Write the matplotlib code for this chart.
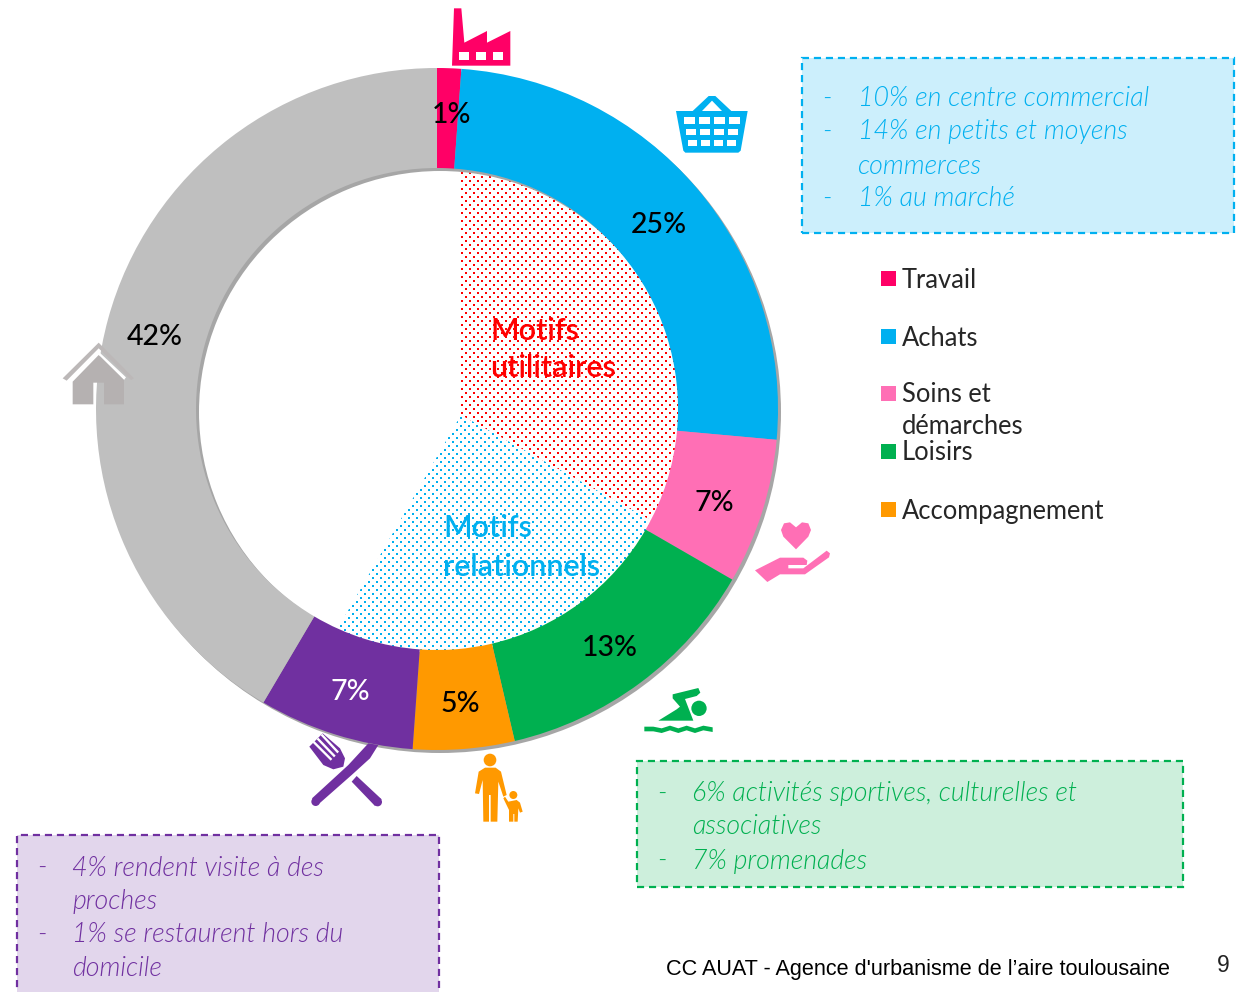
import numpy as np
import matplotlib
matplotlib.use("Agg")
import matplotlib.pyplot as plt
from matplotlib.patches import Polygon, Rectangle, Circle, Wedge

W, H = 1243, 992

categories = ["Travail", "Achats", "Soins et démarches", "Loisirs", "Accompagnement", "Restauration / visites", "Domicile"]
shares = [1.14, 25.3, 6.9, 13.0, 4.8, 7.36, 41.5]
share_labels = ["1%", "25%", "7%", "13%", "5%", "7%", "42%"]
legend_labels = ["Travail", "Achats", "Soins et", "démarches", "Loisirs", "Accompagnement"]
blue_lines = ["10% en centre commercial", "14% en petits et moyens", "commerces", "1% au marché"]
green_lines = ["6% activités sportives, culturelles et", "associatives", "7% promenades"]
purple_lines = ["4% rendent visite à des", "proches", "1% se restaurent hors du", "domicile"]

PINK, BLUE, ROSE, GREEN, ORANGE, PURPLE, GREY = "#ff0066", "#00b0f0", "#ff6fb5", "#00b050", "#ff9900", "#7030a0", "#bfbfbf"
colors = [PINK, BLUE, ROSE, GREEN, ORANGE, PURPLE, GREY]
SANS = "Lato"

fig = plt.figure(figsize=(W / 100, H / 100), dpi=100)
ax = fig.add_axes([0, 0, 1, 1])


def Y(y):
    return H - y


def poly(pts, color, ox=0, oy=0, s=1.0, z=6):
    ax.add_patch(Polygon([(ox + x * s, Y(oy + y * s)) for x, y in pts], closed=True, fc=color, ec="none", zorder=z))


def circ(x, y, r, color, ox=0, oy=0, s=1.0, z=6):
    ax.add_patch(Circle((ox + x * s, Y(oy + y * s)), r * s, fc=color, ec="none", zorder=z))


# dotted sectors behind the ring (2 px dots, 8 px pitch, staggered every 4 px)
def dotted_sector(theta1, theta2, rgb, x0, y0):
    yy, xx = np.mgrid[0:H, 0:W]
    a = (((xx - x0) % 8 < 2) & ((yy - y0) % 8 < 2)) | (((xx - x0 - 4) % 8 < 2) & ((yy - y0 - 4) % 8 < 2))
    img = np.zeros((H, W, 4))
    img[..., :3] = rgb
    img[..., 3] = a
    wedge = Wedge((461, Y(415)), 262, theta1, theta2, fc="none", ec="none", zorder=1)
    ax.add_patch(wedge)
    im = ax.imshow(img, extent=(0, W, 0, H), origin="upper", interpolation="nearest", aspect="auto", zorder=1)
    im.set_clip_path(wedge)


dotted_sector(-29, 90, (1, 0, 0), 521, 400)
dotted_sector(-120, -29, (0, 0.69, 0.94), 408, 541)

# shadow + ring
CX, CY, R_OUT, R_IN = 437, 409, 341, 241
ax.pie([1], colors=["#a6a6a6"], radius=R_OUT, center=(CX + 3, Y(CY + 3)), startangle=90,
       wedgeprops=dict(width=R_OUT - R_IN, linewidth=0, zorder=2))
ax.pie(shares, colors=colors, radius=R_OUT, center=(CX, Y(CY)), startangle=90, counterclock=False,
       wedgeprops=dict(width=R_OUT - R_IN, linewidth=0, zorder=3))
ax.set_xlim(0, W)
ax.set_ylim(0, H)
ax.set_aspect("auto")
ax.axis("off")

# share labels
label_xy = [(452, 115), (659, 225), (714, 503), (610, 648), (460, 704), (350, 692), (155, 337)]
label_col = ["black", "black", "black", "black", "black", "white", "black"]
for t, (x, y), c in zip(share_labels, label_xy, label_col):
    ax.text(x, Y(y), t, fontsize=20.5, family=SANS, weight="medium", color=c, ha="center", va="center", zorder=8)

# sector titles
for t, y in zip(["Motifs", "utilitaires"], [331, 368]):
    ax.text(490, Y(y), t, fontsize=22, family=SANS, weight="semibold", color="#ff0000", va="center", zorder=8)
for t, y in zip(["Motifs", "relationnels"], [528, 567]):
    ax.text(443, Y(y), t, fontsize=22, family=SANS, weight="semibold", color=BLUE, va="center", zorder=8)

# legend
legend_rows = [(280, PINK), (338, BLUE), (395, ROSE), (427, None), (453, GREEN), (511, ORANGE)]
for t, (y, c) in zip(legend_labels, legend_rows):
    if c:
        ax.add_patch(Rectangle((881, Y(y + 5.5)), 15, 15, fc=c, ec="none", zorder=5))
    ax.text(902, Y(y), t, fontsize=18.4, family=SANS, color="#262626", va="center", zorder=8)


# call-out boxes
def callout(x0, y0, x1, y1, fill, edge, lines, ys, xdash, xtext, dashed):
    ax.add_patch(Rectangle((x0, Y(y1)), x1 - x0, y1 - y0, fc=fill, ec=edge, lw=1.6,
                           linestyle=(0, (3.2, 2.2)), zorder=4, clip_on=True))
    for t, y, d in zip(lines, ys, dashed):
        if d:
            ax.text(xdash, Y(y), "-", fontsize=19.3, family=SANS, style="italic", weight=300,
                    color=edge, va="center", zorder=8)
        ax.text(xtext, Y(y), t, fontsize=19.3, family=SANS, style="italic", weight=300,
                color=edge, va="center", zorder=8)


callout(802, 58, 1234, 233, "#cceffc", BLUE, blue_lines, [99, 132, 166, 199], 822, 858, [1, 1, 0, 1])
callout(637, 761, 1183, 887, "#cdefdc", GREEN, green_lines, [794, 827, 861], 657, 692, [1, 0, 1])
callout(17, 835, 439, 1010, "#e2d6ec", PURPLE, purple_lines, [868, 901, 935, 969], 37, 72, [1, 0, 1, 0])

# footer
ax.text(666, Y(969), "CC AUAT - Agence d'urbanisme de l’aire toulousaine", fontsize=15.55, family="Liberation Sans",
        color="black", va="center", zorder=8)
ax.text(1223, Y(965), "9", fontsize=16.5, family="Liberation Sans", color="#222222", ha="center", va="center", zorder=8)

# ---- icons (decorative pictograms, crop-scale outline coordinates) ----
t = 1 / 3
# factory
poly([(96, 197), (102, 25), (124, 25), (133, 128), (201, 93), (201, 128), (271, 93), (271, 197)], PINK, 420, 0, t)
for a, b in [(117, 147), (167, 197), (219, 250)]:
    poly([(a, 157), (b, 157), (b, 180), (a, 180)], "white", 420, 0, t, 7)
# basket
poly([(818, 333), (866, 288), (886, 288), (934, 333)], BLUE, 420, 0, t)
poly([(846, 333), (876, 302), (906, 333)], "white", 420, 0, t, 7)
poly([(768, 333), (983, 333), (962, 452), (955, 458), (796, 458), (790, 452)], BLUE, 420, 0, t)
rows = [(352, 372, [(792, 826), (838, 870), (882, 916), (926, 960)]),
        (387, 405, [(798, 828), (840, 870), (882, 912), (924, 954)]),
        (419, 438, [(804, 830), (843, 870), (882, 908), (920, 948)])]
for y0, y1, cells in rows:
    for a, b in cells:
        poly([(a, y0), (b, y0), (b, y1), (a, y1)], "white", 420, 0, t, 7)
# heart in hand
poly([(498, 118), (460, 80), (453, 60), (462, 40), (480, 37), (498, 52), (516, 37), (535, 40), (543, 60), (535, 80)], ROSE, 630, 510, t)
poly([(375, 181), (450, 143), (520, 143), (532, 152), (530, 165), (475, 165), (475, 175), (520, 175), (590, 122),
      (600, 130), (597, 142), (525, 193), (450, 193), (412, 216)], ROSE, 630, 510, t)
# swimmer
circ(207, 595, 23, GREEN, 630, 510, t)
poly([(128, 553), (205, 534), (211, 548), (200, 558), (165, 567), (190, 632), (85, 632), (140, 598), (150, 590), (128, 565)], GREEN, 630, 510, t)
top = [(43, 650), (70, 650), (95, 655), (120, 647), (145, 655), (170, 647), (195, 655), (220, 647), (248, 652)]
poly(top + [(x, y + 14) for x, y in reversed(top)], GREEN, 630, 510, t)
# fork and knife
poly([(66, 235), (175, 135), (235, 70), (265, 75), (240, 115), (185, 165), (84, 254)], PURPLE, 290, 720, t)
circ(77, 245, 13, PURPLE, 290, 720, t)
poly([(200, 168), (275, 238), (255, 258), (185, 185)], PURPLE, 290, 720, t)
circ(263, 246, 13, PURPLE, 290, 720, t)
poly([(58, 80), (98, 40), (150, 85), (165, 115), (160, 140), (130, 148), (100, 135)], PURPLE, 290, 720, t)
for (a, b), (c, d) in [((68, 68), (122, 122)), ((80, 58), (132, 112)), ((92, 46), (142, 100))]:
    poly([(a, b), (a + 5, b - 5), (c + 5, d - 5), (c, d)], "white", 290, 720, t, 7)
# adult and child
circ(600, 120, 19, ORANGE, 290, 720, t)
poly([(566, 155), (585, 143), (617, 143), (633, 155), (650, 225), (640, 230), (625, 185), (622, 305), (602, 305), (602, 225),
      (597, 225), (597, 305), (580, 305), (578, 180), (567, 222), (555, 220)], ORANGE, 290, 720, t)
circ(670, 225, 12, ORANGE, 290, 720, t)
poly([(655, 245), (680, 240), (690, 248), (698, 275), (690, 278), (685, 265), (683, 305), (673, 305), (673, 282), (670, 282),
      (670, 305), (657, 305), (657, 270), (640, 235), (645, 230)], ORANGE, 290, 720, t)
# house
poly([(38, 175), (146, 68), (252, 175), (243, 180), (146, 85), (50, 182)], "#bcb8b8", 50, 320, t)
poly([(68, 176), (146, 95), (228, 172), (222, 180), (146, 105), (68, 185)], "white", 50, 320, t)
poly([(68, 185), (146, 105), (222, 180), (222, 253), (162, 253), (162, 188), (130, 188), (130, 253), (68, 253)], "#b5b1b1", 50, 320, t)

fig.savefig("out.png", dpi=100)
